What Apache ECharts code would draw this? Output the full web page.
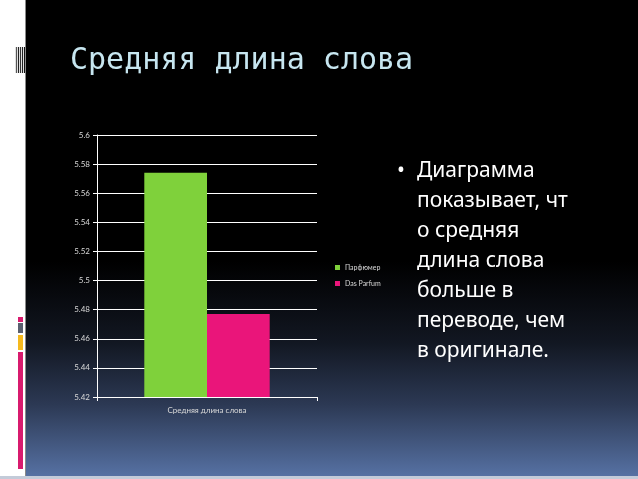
<!DOCTYPE html>
<html><head><meta charset="utf-8">
<script src="https://cdn.jsdelivr.net/npm/echarts@6/dist/echarts.min.js"></script>
<style>html,body{margin:0;padding:0;background:#000;}#c{width:638px;height:479px;}</style>
</head><body><div id="c"></div>
<script>
const titleText = 'Средняя длина слова';
const categories = ['Средняя длина слова'];
const seriesNames = ['Парфюмер', 'Das Parfum'];
const parfumerValues = [5.574];
const dasParfumValues = [5.477];
const yMin = 5.42, yMax = 5.6, yStep = 0.02;
const bulletLines = ['Диаграмма', 'показывает, чт', 'о средняя', 'длина слова', 'больше в', 'переводе, чем', 'в оригинале.'];

const chart = echarts.init(document.getElementById('c'), null, {renderer: 'canvas'});
const labelColor = '#d9d9d9';
chart.setOption({
  backgroundColor: '#ffffff',
  animation: false,
  graphic: [
    {type: 'rect', shape: {x: 26, y: 0, width: 612, height: 476}, z: -10,
     style: {fill: new echarts.graphic.LinearGradient(0, 0, 0, 1, [
       {offset: 0, color: '#000000'}, {offset: 0.55, color: '#000000'},
       {offset: 0.72, color: '#121722'}, {offset: 0.85, color: '#2c3954'}, {offset: 1, color: '#5671a3'}])}},
    {type: 'rect', shape: {x: 0, y: 476, width: 638, height: 3}, z: -10, style: {fill: '#c3cbd9'}},
    {type: 'rect', shape: {x: 25, y: 0, width: 1, height: 476}, z: -9, style: {fill: '#8a8a8a'}},
    {type: 'rect', shape: {x: 18, y: 317, width: 5, height: 5}, style: {fill: '#d81b6e'}},
    {type: 'rect', shape: {x: 18, y: 323, width: 5, height: 10}, style: {fill: '#5a6070'}},
    {type: 'rect', shape: {x: 18, y: 335, width: 5, height: 15}, style: {fill: '#f5b91e'}},
    {type: 'rect', shape: {x: 18, y: 352, width: 5, height: 117}, style: {fill: '#d81b6e'}},
    {type: 'rect', shape: {x: 15, y: 47, width: 10, height: 26}, style: {fill: '#e0e0e0'}},
    {type: 'rect', shape: {x: 16, y: 47, width: 1, height: 26}, style: {fill: '#555'}},
    {type: 'rect', shape: {x: 18, y: 47, width: 1, height: 26}, style: {fill: '#222'}},
    {type: 'rect', shape: {x: 20, y: 47, width: 1, height: 26}, style: {fill: '#333'}},
    {type: 'rect', shape: {x: 22, y: 47, width: 1, height: 26}, style: {fill: '#222'}},
    {type: 'rect', shape: {x: 24, y: 47, width: 1, height: 26}, style: {fill: '#111'}},
    {type: 'text', left: 70, top: 46, style: {text: titleText, fill: '#c7e6f0', font: '30px "DejaVu Sans Mono"'}},
    {type: 'text', left: 397, top: 156, style: {text: '•', fill: '#ffffff', font: '21px "Noto Sans"', lineHeight: 30}},
    {type: 'text', left: 417, top: 156, style: {text: bulletLines.join('\n'), fill: '#ffffff', font: '21px "Noto Sans"', lineHeight: 30}}
  ],
  legend: {
    orient: 'vertical', left: 330, top: 259, itemWidth: 5, itemHeight: 5, itemGap: 9,
    icon: 'rect', textStyle: {color: labelColor, fontSize: 7, fontFamily: 'Lato'},
    data: seriesNames
  },
  grid: {left: 97, top: 135, right: 321, bottom: 82, containLabel: false},
  xAxis: {
    type: 'category', data: categories,
    axisLine: {lineStyle: {color: '#ffffff', width: 1}},
    axisTick: {show: true, length: 4, lineStyle: {color: '#ffffff'}},
    axisLabel: {color: labelColor, fontSize: 8, fontFamily: 'Lato', margin: 9}
  },
  yAxis: {
    type: 'value', min: yMin, max: yMax, interval: yStep,
    axisLine: {show: true, lineStyle: {color: '#ffffff', width: 1}},
    axisTick: {show: true, length: 4, lineStyle: {color: '#ffffff'}},
    axisLabel: {color: labelColor, fontSize: 8, fontFamily: 'Lato', margin: 7,
      formatter: v => String(parseFloat(v.toFixed(2)))},
    splitLine: {lineStyle: {color: '#ffffff', width: 1}}
  },
  series: [
    {name: seriesNames[0], type: 'bar', data: parfumerValues, itemStyle: {color: '#7fd13b'}, barGap: '0%', barCategoryGap: '43%'},
    {name: seriesNames[1], type: 'bar', data: dasParfumValues, itemStyle: {color: '#ea157a'}, barGap: '0%', barCategoryGap: '43%'}
  ]
});
</script></body></html>
